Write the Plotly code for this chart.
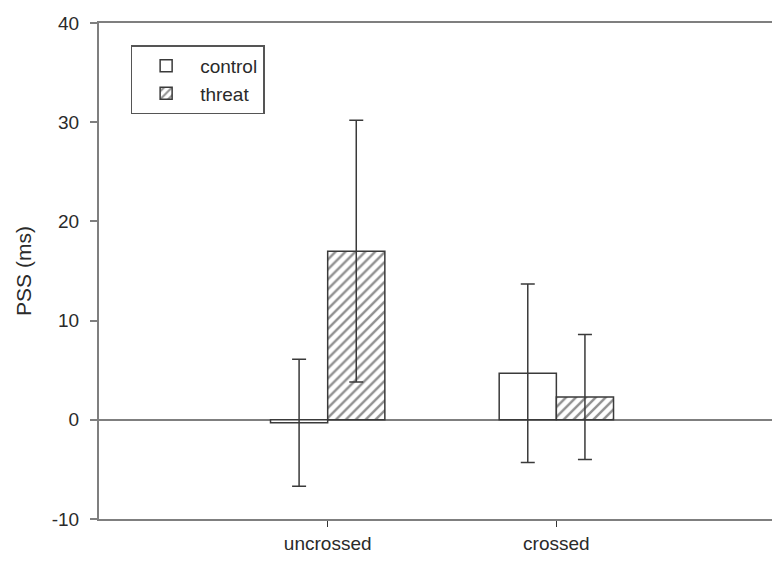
import plotly.graph_objects as go

# PSS means and error bars for each arm position
categories = ["uncrossed", "crossed"]
positions = [1, 2]
control = [-0.3, 4.7]
control_err = [6.4, 9.0]
threat = [17.0, 2.3]
threat_err = [13.2, 6.3]

y_ticks = [-10, 0, 10, 20, 30, 40]
y_tick_text = ["-10", "0", "10", "20", "30", "40"]

AXIS = "#7f7f7f"
EDGE = "#3a3a3a"
TEXT = "#2a2a2a"
FONT = "Liberation Sans, Arial, sans-serif"

fig = go.Figure()

fig.add_trace(go.Bar(
    x=positions, y=control, name="control",
    marker=dict(color="white", line=dict(color=EDGE, width=1.5)),
    error_y=dict(type="data", array=control_err, color=EDGE, thickness=1.5, width=7),
))
fig.add_trace(go.Bar(
    x=positions, y=threat, name="threat",
    marker=dict(
        color="white",
        line=dict(color=EDGE, width=1.5),
        pattern=dict(shape="/", size=7, solidity=0.35, fgcolor="#222222", bgcolor="white"),
    ),
    error_y=dict(type="data", array=threat_err, color=EDGE, thickness=1.5, width=7),
))

fig.update_layout(
    width=772, height=573,
    margin=dict(l=99, r=0, t=23, b=54),
    paper_bgcolor="white", plot_bgcolor="white",
    barmode="group", bargap=0.5, bargroupgap=0,
    font=dict(family=FONT, size=19, color=TEXT),
    showlegend=True,
    legend=dict(
        x=0.047, y=0.955, xanchor="left", yanchor="top",
        bgcolor="white", bordercolor="#555555", borderwidth=1.5,
        font=dict(family=FONT, size=19, color=TEXT),
        itemwidth=58,
    ),
    xaxis=dict(
        range=[0, 2.943],
        tickvals=positions, ticktext=categories,
        ticks="outside", ticklen=6, tickwidth=1.2, tickcolor="#333333",
        showline=True, linecolor=AXIS, linewidth=2, mirror=True,
        showgrid=False, zeroline=False,
        tickfont=dict(size=19),
    ),
    yaxis=dict(
        range=[-10, 40],
        tickvals=y_ticks, ticktext=y_tick_text,
        ticks="outside", ticklen=7, tickwidth=1.5, tickcolor=AXIS,
        ticklabelstandoff=7,
        showline=True, linecolor=AXIS, linewidth=2, mirror=False,
        showgrid=False,
        zeroline=True, zerolinecolor=AXIS, zerolinewidth=1.5,
        tickfont=dict(size=19),
        title=dict(text="PSS (ms)", font=dict(size=21), standoff=14),
    ),
)

fig.write_html("out.html")
